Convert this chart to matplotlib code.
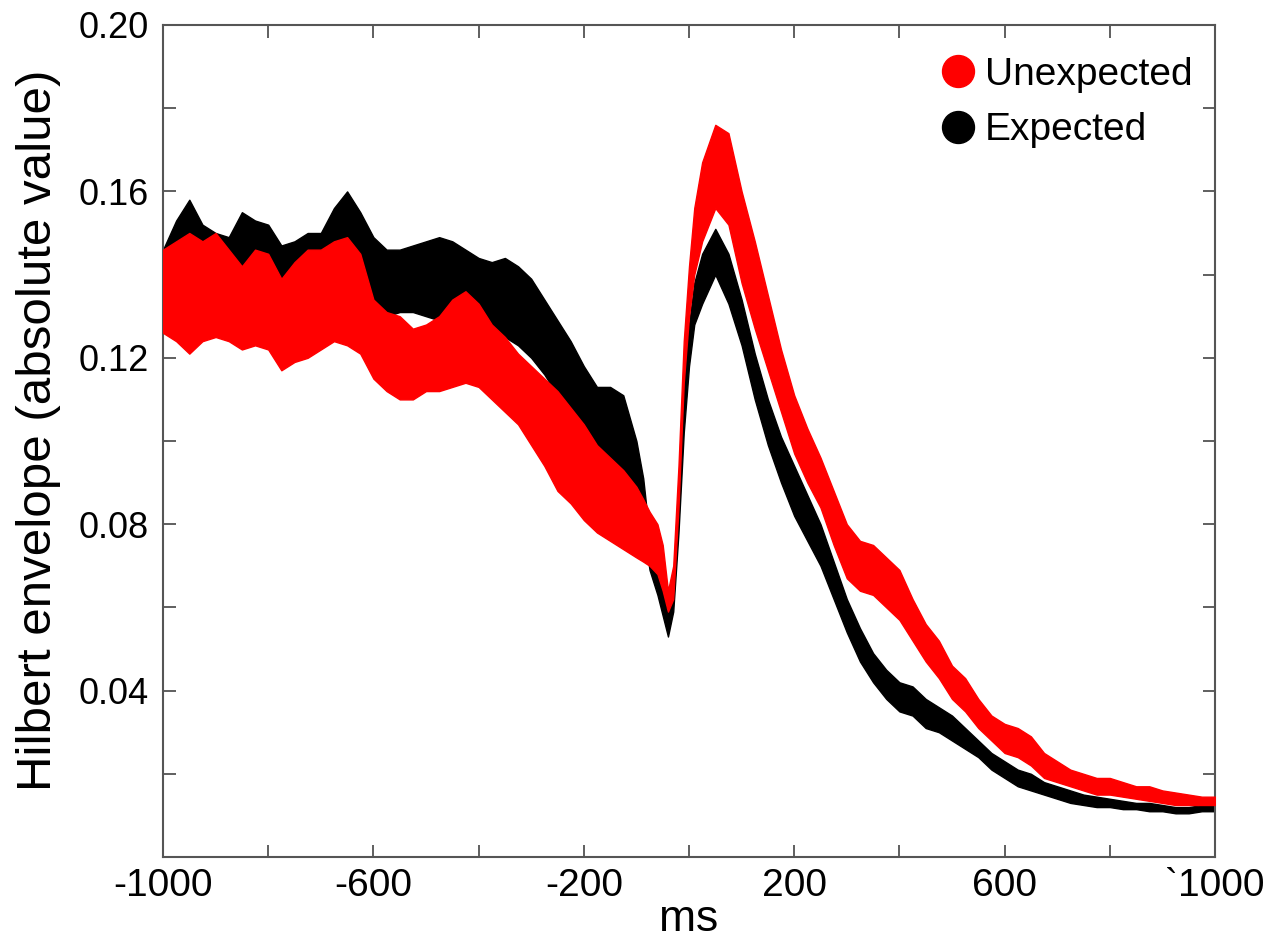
import matplotlib
matplotlib.use("Agg")
import matplotlib.pyplot as plt
from matplotlib.lines import Line2D

# ---- data ----
ms = [-1000, -975, -950, -925, -900, -875, -850, -825, -800, -775, -750, -725, -700,
      -675, -650, -625, -600, -575, -550, -525, -500, -475, -450, -425, -400,
      -375, -350, -325, -300, -275, -250, -225, -200, -175, -150, -125, -100,
      -87, -75, -60, -50, -40, -30, -20, -10, 0, 10, 25, 50, 75, 100, 125, 150,
      175, 200, 225, 250, 275, 300, 325, 350, 375, 400, 425, 450, 475, 500,
      525, 550, 575, 600, 625, 650, 675, 700, 725, 750, 775, 800, 825, 850,
      875, 900, 925, 950, 975, 1000]

expected_upper = [0.146, 0.153, 0.158, 0.152, 0.150, 0.149, 0.155, 0.153, 0.152, 0.147, 0.148, 0.150, 0.150,
                  0.156, 0.160, 0.155, 0.149, 0.146, 0.146, 0.147, 0.148, 0.149, 0.148, 0.146, 0.144,
                  0.143, 0.144, 0.142, 0.139, 0.134, 0.129, 0.124, 0.118, 0.113, 0.113, 0.111, 0.100,
                  0.091, 0.077, 0.070, 0.064, 0.058, 0.066, 0.088, 0.115, 0.128, 0.138, 0.145, 0.151, 0.145, 0.134, 0.121, 0.110,
                  0.101, 0.094, 0.087, 0.080, 0.071, 0.062, 0.055, 0.049, 0.045, 0.042, 0.041, 0.038, 0.036, 0.034,
                  0.031, 0.028, 0.025, 0.023, 0.021, 0.020, 0.018, 0.017, 0.016, 0.015, 0.0145, 0.014, 0.0135, 0.013,
                  0.013, 0.0125, 0.012, 0.012, 0.0125, 0.0125]
expected_lower = [0.126, 0.127, 0.128, 0.127, 0.126, 0.126, 0.127, 0.128, 0.127, 0.124, 0.124, 0.125, 0.126,
                  0.129, 0.130, 0.130, 0.130, 0.130, 0.131, 0.131, 0.130, 0.129, 0.128, 0.127, 0.126,
                  0.125, 0.125, 0.123, 0.120, 0.116, 0.111, 0.107, 0.102, 0.097, 0.095, 0.093, 0.086,
                  0.079, 0.069, 0.063, 0.058, 0.053, 0.059, 0.078, 0.102, 0.118, 0.128, 0.133, 0.140, 0.133, 0.123, 0.110, 0.099,
                  0.090, 0.082, 0.076, 0.070, 0.062, 0.054, 0.047, 0.042, 0.038, 0.035, 0.034, 0.031, 0.030, 0.028,
                  0.026, 0.024, 0.021, 0.019, 0.017, 0.016, 0.015, 0.014, 0.013, 0.0125, 0.012, 0.012, 0.0115, 0.0115,
                  0.011, 0.011, 0.0105, 0.0105, 0.011, 0.011]
unexpected_upper = [0.146, 0.148, 0.150, 0.148, 0.150, 0.146, 0.142, 0.146, 0.145, 0.139, 0.143, 0.146, 0.146,
                    0.148, 0.149, 0.145, 0.134, 0.131, 0.130, 0.127, 0.128, 0.130, 0.134, 0.136, 0.133,
                    0.128, 0.125, 0.121, 0.118, 0.115, 0.112, 0.108, 0.104, 0.099, 0.096, 0.093, 0.089,
                    0.086, 0.083, 0.080, 0.075, 0.064, 0.070, 0.094, 0.124, 0.142, 0.156, 0.167, 0.176, 0.174, 0.160, 0.148, 0.135,
                    0.122, 0.111, 0.103, 0.096, 0.088, 0.080, 0.076, 0.075, 0.072, 0.069, 0.062, 0.056, 0.052, 0.046,
                    0.043, 0.038, 0.034, 0.032, 0.031, 0.029, 0.025, 0.023, 0.021, 0.020, 0.019, 0.019, 0.018, 0.017,
                    0.017, 0.016, 0.0155, 0.015, 0.0145, 0.0145]
unexpected_lower = [0.126, 0.124, 0.121, 0.124, 0.125, 0.124, 0.122, 0.123, 0.122, 0.117, 0.119, 0.120, 0.122,
                    0.124, 0.123, 0.121, 0.115, 0.112, 0.110, 0.110, 0.112, 0.112, 0.113, 0.114, 0.113,
                    0.110, 0.107, 0.104, 0.099, 0.094, 0.088, 0.085, 0.081, 0.078, 0.076, 0.074, 0.072,
                    0.071, 0.070, 0.068, 0.064, 0.059, 0.062, 0.084, 0.114, 0.130, 0.140, 0.148, 0.156, 0.152, 0.138, 0.127, 0.117,
                    0.107, 0.097, 0.090, 0.084, 0.075, 0.067, 0.064, 0.063, 0.060, 0.057, 0.052, 0.047, 0.043, 0.038,
                    0.035, 0.031, 0.028, 0.025, 0.024, 0.022, 0.019, 0.018, 0.017, 0.016, 0.015, 0.015, 0.0145, 0.014,
                    0.0135, 0.013, 0.0125, 0.0125, 0.0125, 0.0125]

x_ticks = [-1000, -800, -600, -400, -200, 0, 200, 400, 600, 800, 1000]
x_tick_labels = ['-1000', '', '-600', '', '-200', '', '200', '', '600', '', '`1000']
y_ticks = [0.02, 0.04, 0.06, 0.08, 0.10, 0.12, 0.14, 0.16, 0.18, 0.20]
y_tick_labels = ['', '0.04', '', '0.08', '', '0.12', '', '0.16', '', '0.20']
series_labels = ['Unexpected', 'Expected']
series_colors = ['#ff0000', '#000000']

# ---- figure ----
plt.rcParams['font.family'] = ['Liberation Sans', 'DejaVu Sans']
fig = plt.figure(figsize=(12.68, 9.39), dpi=100)
ax = fig.add_axes([163 / 1268, 1 - 857 / 939, (1215 - 163) / 1268, (857 - 25) / 939])

ax.fill_between(ms, expected_lower, expected_upper, color=series_colors[1], linewidth=1.0,
                edgecolor=series_colors[1], zorder=2)
ax.fill_between(ms, unexpected_lower, unexpected_upper, color=series_colors[0], linewidth=1.0,
                edgecolor=series_colors[0], zorder=3)

ax.set_xlim(-1000, 1000)
ax.set_ylim(0, 0.20)
ax.set_xticks(x_ticks)
ax.set_xticklabels(x_tick_labels, fontsize=28)
ax.set_yticks(y_ticks)
ax.set_yticklabels(y_tick_labels, fontsize=26)
ax.tick_params(direction='in', length=9, width=1.2, color='#444444',
               top=True, right=True, pad=8)
ax.tick_params(axis='y', pad=10)
for sp in ax.spines.values():
    sp.set_color('#555555')
    sp.set_linewidth(1.5)

ax.set_xlabel('ms', fontsize=32, labelpad=-4)
ax.set_ylabel('Hilbert envelope (absolute value)', fontsize=35.5)
ax.yaxis.set_label_coords(-0.097, 0.513)

handles = [Line2D([], [], marker='o', linestyle='', color=c, markersize=23) for c in series_colors]
ax.legend(handles, series_labels, loc='upper right', bbox_to_anchor=(0.997, 0.985),
          frameon=False, fontsize=28, handletextpad=0.05, labelspacing=0.5,
          borderaxespad=0.1, handlelength=1.3)

fig.savefig('out.png', dpi=100)
